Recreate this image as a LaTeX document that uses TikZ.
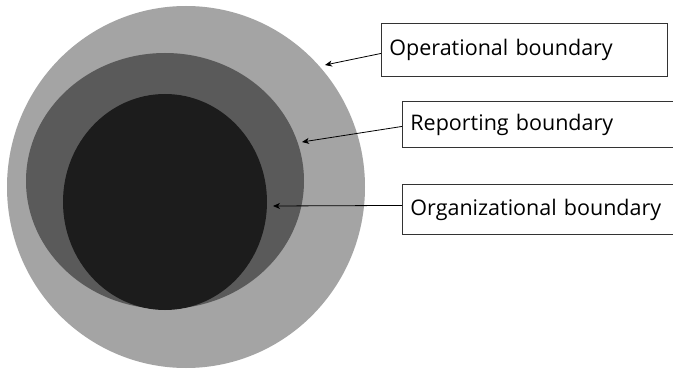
\documentclass[tikz,border=0pt]{standalone}
\usepackage{fontspec}
\setmainfont{Open Sans}
\usetikzlibrary{arrows.meta,calc}
\definecolor{outerg}{HTML}{A4A4A4}
\definecolor{midg}{HTML}{5A5A5A}
\definecolor{innerg}{HTML}{1C1C1C}
\definecolor{boxline}{HTML}{333333}
\begin{document}
\begin{tikzpicture}[x=1pt,y=-1pt,
  lbox/.style={draw=boxline,line width=0.9pt,rectangle,anchor=north west,
    minimum height=#1,inner xsep=8pt,inner ysep=0pt,align=left,
    font=\fontsize{21.5}{24}\selectfont},
  ptr/.style={-{Stealth[length=7pt,width=6pt,inset=2pt]},line width=0.8pt,black}]
\useasboundingbox (0,0) rectangle (673,369);
\clip (0,0) rectangle (673,369);
\fill[white] (0,0) rectangle (673,369);
% circles
\fill[outerg] (186,187) ellipse [x radius=179,y radius=181];
\fill[midg] (165,181) ellipse [x radius=139,y radius=128];
\fill[innerg] (165,202) ellipse [x radius=102,y radius=108];
% boxes
\node[lbox=53pt,text width=270pt] (op) at (381,23) {Operational boundary};
\node[lbox=46pt,text width=274pt] (rep) at (402,101) {Reporting boundary};
\node[lbox=50pt,text width=274pt] (org) at (402,184) {Organizational boundary};
% arrow targets
\coordinate (tipO) at (325,65);
\coordinate (tipR) at (302,142);
\coordinate (tipI) at (273,206);
\draw[ptr] ($(op.west)+(0,3.5)$) -- (tipO);
\draw[ptr] ($(rep.west)+(0,2)$) -- (tipR);
\draw[ptr] ($(org.west)+(0,-4)$) -- (tipI);
\end{tikzpicture}
\end{document}
